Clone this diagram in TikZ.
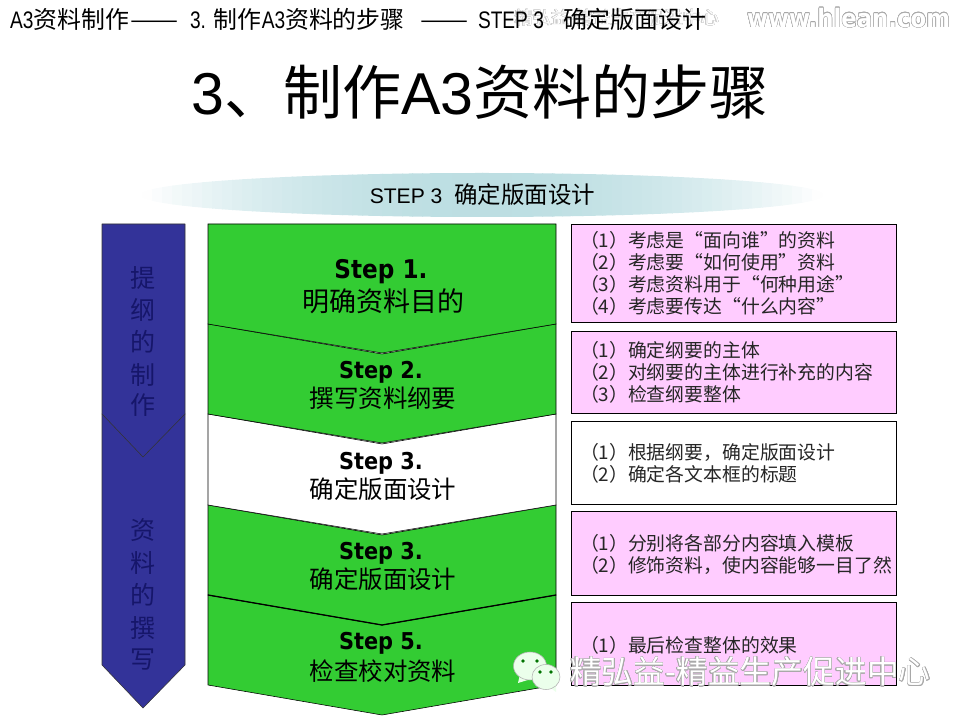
\documentclass[tikz,border=0pt]{standalone}
\usepackage{fontspec}
\usepackage[copies]{contour}
\setmainfont{Liberation Sans}
\newfontfamily\cjk{Noto Sans CJK SC}
\newfontfamily\narrowfont[FakeStretch=0.8]{Liberation Sans}
\newfontfamily\stepfont[FakeStretch=0.9]{DejaVu Sans}
\definecolor{navyFill}{HTML}{333399}
\definecolor{navyText}{HTML}{16166A}
\definecolor{greenFill}{HTML}{33CC33}
\definecolor{pinkFill}{HTML}{FFCCFF}
\definecolor{bandTeal}{HTML}{BCDEE2}
\definecolor{markGrey}{HTML}{A8A8A8}
\contourlength{0.3pt}
\tikzset{
  x=0.025cm, y=-0.025cm,
  txt/.style      ={inner sep=0pt, outer sep=0pt},
  head/.style     ={txt, anchor=base west, font=\fontsize{17}{20}\selectfont},
  navyarrow/.style={draw=black!80, fill=navyFill, line width=0.4pt, line join=round},
  sidechar/.style ={txt, text=navyText, font=\cjk\fontsize{17.8}{20}\selectfont},
  stepshape/.style={draw=black, line width=0.4pt, line join=miter},
  steptop/.style  ={txt, font=\stepfont\bfseries\fontsize{16.5}{18}\selectfont},
  stepsub/.style  ={txt, font=\cjk\fontsize{17.4}{20}\selectfont},
  notebox/.style  ={draw=black, line width=0.5pt, anchor=north west, inner sep=0pt},
  notetext/.style ={txt, anchor=west, align=left, text=black!85, font=\cjk\fontsize{13.4}{15.65}\selectfont},
  wmark/.style    ={txt, anchor=west, text=white},
  bubble/.style   ={draw=black!30, fill=white!92!green, line width=0.4pt},
  bubbletail/.style={fill=white!92!green},
  bubbledot/.style={fill=black!55!green, circle, inner sep=0.9pt},
}
\begin{document}
\begin{tikzpicture}
  \useasboundingbox (0,0) rectangle (960,720);

  % watermark under the header line
  \node[wmark, font=\cjk\fontsize{12.8}{15}\selectfont] (faint) at (515,18) {\contour{black!20}{精弘益-精益生产促进中心}};

  % header line and title
  \node[head] (crumb) at (10,29) {\narrowfont A3{\cjk 资料制作}};
  \node[head, xscale=1.2] (crumbdash) at (130,29) {\cjk ——};
  \node[head] (crumbb) at (190,29) {\narrowfont 3.\hspace{0.2cm}{\cjk 制作}A3{\cjk 资料的步骤}};
  \node[head, xscale=1.2] (crumbc) at (420,29) {\cjk ——};
  \node[head] (crumbd) at (478,29) {\narrowfont STEP 3};
  \node[head] (crumbe) at (563,29) {\cjk 确定版面设计};
  \node[txt, font=\fontsize{42}{50}\selectfont] (title) at (480,92) {3{\cjk 、制作}A3{\cjk 资料的步骤}};

  % band, cut into strips that pale towards both ends
  \begin{scope}
    \clip (482,195) circle[x radius=342, y radius=22];
    \foreach \i in {-34,...,33} {
      \pgfmathtruncatemacro{\p}{100*(1-(abs(\i+0.5)/34)^2)}
      \shade[top color=bandTeal!\p!white, middle color=white, bottom color=bandTeal!\p!white]
        (482+\i*10,173) rectangle (482+\i*10+11,217);
    }
  \end{scope}
  \node[txt, font=\fontsize{15}{18}\selectfont] (bandtxt) at (482.5,195) {STEP 3\hspace{0.15cm} {\cjk\fontsize{16.7}{18}\selectfont 确定版面设计}};

  % left arrows
  \draw[navyarrow] (102,414) -- (185,414) -- (185,665) -- (143,708) -- (102,665) -- cycle;
  \draw[navyarrow] (102,224) -- (185,224) -- (185,414) -- (143,457) -- (102,414) -- cycle;
  \foreach \n/\y/\c in {a/278/提, b/310/纲, c/342/的, d/375/制, e/405/作, f/530/资, g/563/料, h/595/的, i/628/撰, j/660/写}
    \node[sidechar] (side\n) at (143,\y) {\c};

  % chevrons, last first so that each one lies over the next
  \foreach \ya/\yb/\yc/\col in {595/685/715/greenFill, 505/595/625/greenFill, 414/505/534/white, 324/414/443/greenFill}
    \draw[stepshape, fill=\col] (208,\ya) -- (382,\ya+30) -- (556,\ya) -- (556,\yb) -- (382,\yc) -- (208,\yb) -- cycle;
  \draw[stepshape, fill=greenFill] (208,224) -- (556,224) -- (556,324) -- (382,353) -- (208,324) -- cycle;
  \draw[stepshape, line width=0.9pt] (208,595) -- (382,625) -- (556,595);

  \node[steptop, font=\stepfont\bfseries\fontsize{18.3}{20}\selectfont] (topa) at (381,272) {Step 1.};
  \node[stepsub, font=\cjk\fontsize{19.2}{20}\selectfont] (suba) at (383,301) {明确资料目的};
  \foreach \n/\ya/\yb/\s/\t in {b/372/398/Step 2./撰写资料纲要, c/463/489/Step 3./确定版面设计, d/553/579/Step 3./确定版面设计, e/643/671/Step 5./检查校对资料} {
    \node[steptop] (top\n) at (381,\ya) {\s};
    \node[stepsub] (sub\n) at (383,\yb) {\t};
  }

  % note boxes
  \foreach \n/\ya/\h/\col in {a/224/98/pinkFill, b/331/82/pinkFill, c/421/83/white, d/511/84/pinkFill, e/602/83/pinkFill}
    \node[notebox, fill=\col, minimum width=8.125cm, minimum height=\h*0.025cm] (note\n) at (571,\ya) {};
  \node[notetext] (texta) at (580,273) {（1）考虑是“面向谁”的资料\\（2）考虑要“如何使用”资料\\（3）考虑资料用于“何种用途”\\（4）考虑要传达“什么内容”};
  \node[notetext] (textb) at (580,372) {（1）确定纲要的主体\\（2）对纲要的主体进行补充的内容\\（3）检查纲要整体};
  \node[notetext] (textc) at (580,463) {（1）根据纲要，确定版面设计\\（2）确定各文本框的标题};
  \node[notetext] (textd) at (580,554) {（1）分别将各部分内容填入模板\\（2）修饰资料，使内容能够一目了然};
  \node[notetext] (texte) at (580,645) {（1）最后检查整体的效果};

  % watermarks
  \node[wmark, font=\stepfont\bfseries\fontsize{18}{20}\selectfont] (site) at (747,18) {\contour{markGrey}{www.hlean.com}};
  \node[wmark, font=\cjk\fontsize{22.6}{25}\selectfont] (brand) at (570,672) {\contour{markGrey}{精弘益-精益生产促进中心}};
  \fill[bubbletail] (520,674) -- (518,683) -- (531,679) -- cycle;
  \draw[bubble] (530,666) circle[x radius=16.5, y radius=14];
  \fill[bubbletail] (548,686) -- (556,692) -- (556,683) -- cycle;
  \draw[bubble] (546,677) circle[x radius=14, y radius=12.5];
  \foreach \n/\x/\y in {a/523/661, b/537/661, c/540/672, d/551/672}
    \node[bubbledot] (dot\n) at (\x,\y) {};
\end{tikzpicture}
\end{document}
